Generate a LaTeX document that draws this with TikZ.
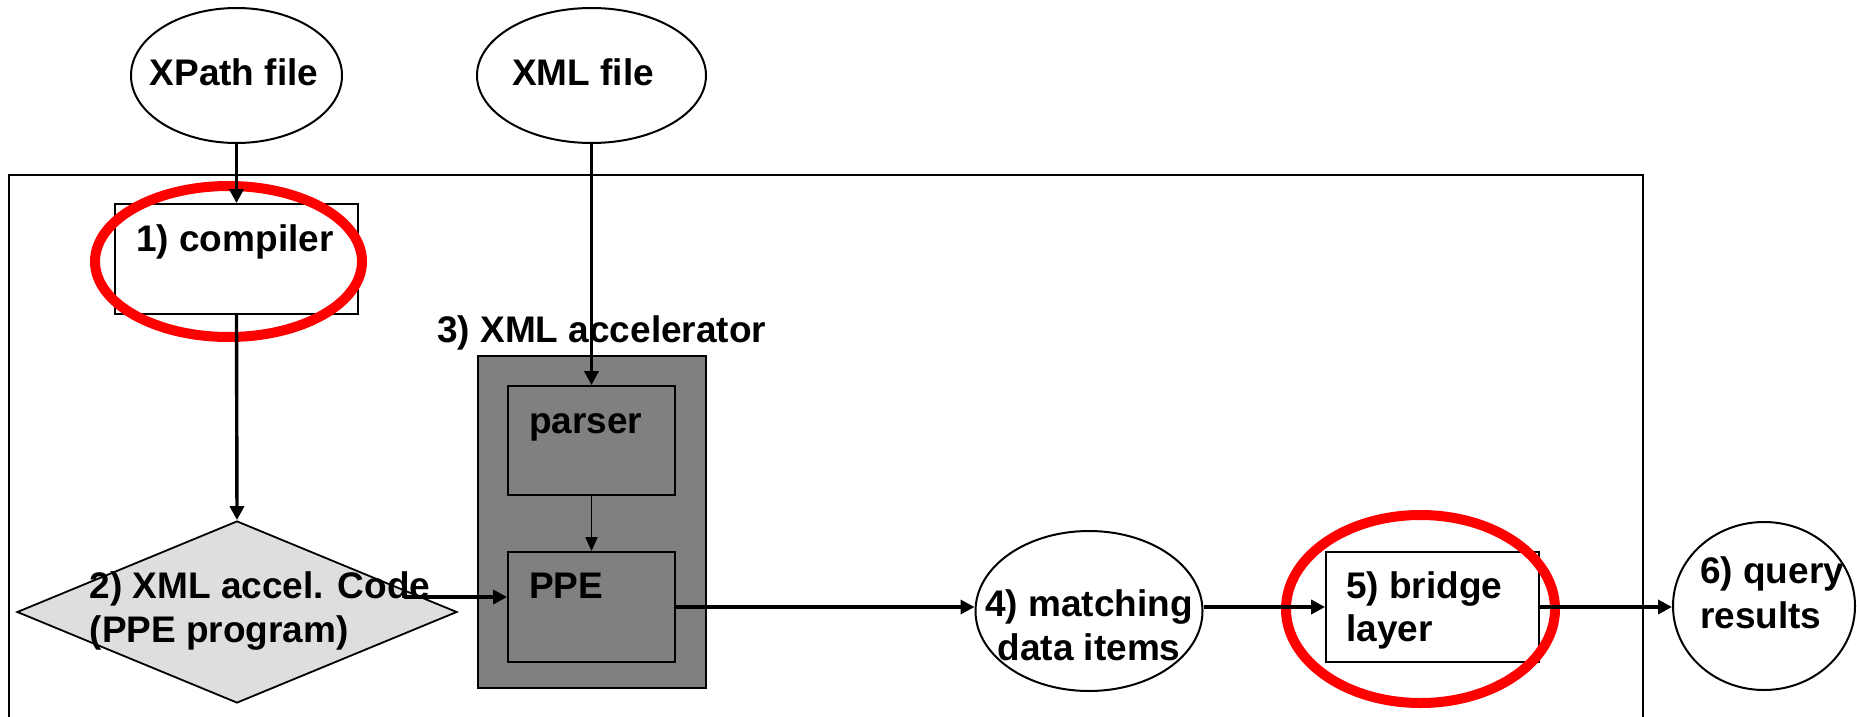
\documentclass[tikz,border=0pt]{standalone}
\usepackage{fontspec}
\setmainfont{Liberation Sans}
\usetikzlibrary{shapes.geometric,arrows.meta}
\begin{document}
\begin{tikzpicture}[x=1pt,y=-1pt,
  lbl/.style={font=\fontsize{37}{44}\selectfont\bfseries, inner sep=0pt, anchor=base west},
  lblc/.style={lbl, anchor=base},
  oval/.style={ellipse, draw, line width=2pt, inner sep=0pt, fill=white},
  blk/.style={rectangle, draw, line width=1.8pt, inner sep=0pt},
  ring/.style={ellipse, draw=red, line width=10pt, inner sep=0pt},
  arr/.style={-{Triangle[length=14pt,width=14pt]}, line width=3.4pt},
  thinarr/.style={-{Triangle[length=14pt,width=12pt]}, line width=1.8pt},
  frame/.style={line width=1.6pt}]
\useasboundingbox (0,0) rectangle (1857,717);

% outer frame (open at the bottom)
\draw[frame] (9,717) -- (9,175) -- (1643,175) -- (1643,717);

% shapes
\node[oval, minimum width=211pt, minimum height=135pt] (xpath) at (236.5,75.5) {};
\node[oval, minimum width=229pt, minimum height=135pt] (xml) at (591.5,75.5) {};
\node[blk, fill=white, minimum width=243pt, minimum height=110pt] (comp) at (236.5,259) {};
\node[blk, fill=black!50, minimum width=228pt, minimum height=332pt] (accel) at (592,522) {};
\node[blk, fill=black!50, minimum width=167pt, minimum height=109pt] (parser) at (591.5,440.5) {};
\node[blk, fill=black!50, minimum width=167pt, minimum height=110pt] (ppe) at (591.5,607) {};
\node[diamond, draw, line width=1.8pt, fill=black!13, inner sep=0pt, minimum width=440pt, minimum height=182pt] (code) at (237,612) {};
\node[oval, minimum width=227pt, minimum height=160pt] (match) at (1089,611) {};
\node[blk, fill=white, minimum width=213pt, minimum height=110pt] (bridge) at (1432.5,607) {};
\node[oval, minimum width=182pt, minimum height=168pt] (query) at (1764,606) {};

% red highlight rings
\node[ring, minimum width=267pt, minimum height=151pt] (ring1) at (228.5,261.5) {};
\node[ring, minimum width=269pt, minimum height=188pt] (ring2) at (1420.5,609) {};

% connectors
\coordinate (codeout) at (404,597);
\draw[arr] (xpath.south) -- (comp.north);
\draw[arr] (xml.south) -- (parser.north);
\draw[thinarr] (parser.south) -- (ppe.north);
\draw[arr] (comp.south) -- (code.north);
\draw[arr] (codeout) -- (codeout -| ppe.west);
\draw[arr] (ppe.east) -- (ppe.east -| match.west);
\draw[arr] (match.east |- bridge.west) -- (bridge.west);
\draw[arr] (bridge.east) -- (bridge.east -| query.west);

% labels
\node[lblc] (txpath) at (234,85) {XPath file};
\node[lblc] (txml) at (583,85) {XML file};
\node[lbl] (tcomp) at (136,251) {1) compiler};
\node[lbl] (taccel) at (437,342) {3) XML accelerator};
\node[lbl] (tparser) at (529,433) {parser};
\node[lbl] (tppe) at (529,598) {PPE};
\node[lbl] (tcode1) at (89.5,598) {2) XML accel. Code};
\node[lbl] (tcode2) at (89.5,642) {(PPE program)};
\node[lblc] (tmatch1) at (1089,616) {4) matching};
\node[lblc] (tmatch2) at (1089,660) {data items};
\node[lbl] (tbridge1) at (1346,598) {5) bridge};
\node[lbl] (tbridge2) at (1346,641) {layer};
\node[lbl] (tquery1) at (1700,583) {6) query};
\node[lbl] (tquery2) at (1700,628) {results};
\end{tikzpicture}
\end{document}
